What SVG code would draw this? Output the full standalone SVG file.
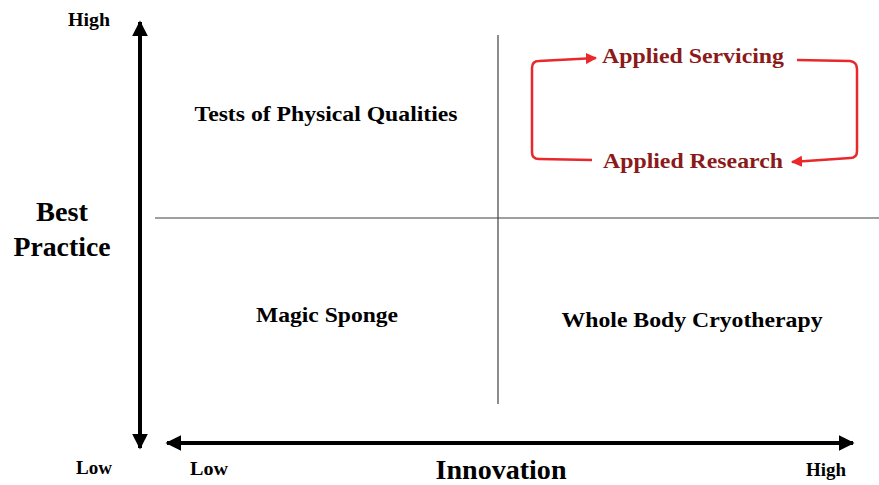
<svg xmlns="http://www.w3.org/2000/svg" width="879" height="485" viewBox="0 0 879 485">
  <style>
    text { font-family: "Liberation Serif", "Times New Roman", serif; font-weight: bold; }
    .axis { stroke: #000; stroke-width: 4; fill: none; }
    .grid { stroke: #404040; stroke-width: 1.2; fill: none; }
    .loop { stroke: #E8282B; stroke-width: 2.5; fill: none; }
    .small { font-size: 18px; fill: #000; }
    .title { font-size: 27px; fill: #000; }
    .quad { font-size: 21px; fill: #000; }
    .red { font-size: 21px; fill: #8B1A1A; }
  </style>
  <defs>
    <marker id="axisHead" viewBox="0 0 10 10" refX="9" refY="5" markerWidth="4" markerHeight="4" orient="auto-start-reverse" markerUnits="strokeWidth">
      <path d="M0,0 L10,5 L0,10 Z" fill="#000"/>
    </marker>
    <marker id="redHead" viewBox="0 0 10 10" refX="9" refY="5" markerWidth="4.5" markerHeight="4.5" orient="auto" markerUnits="strokeWidth">
      <path d="M0,0 L10,5 L0,10 Z" fill="#E8282B"/>
    </marker>
  </defs>

  <g id="connectors">
    <!-- axes -->
    <line class="axis" x1="140" y1="22" x2="140" y2="448" marker-start="url(#axisHead)" marker-end="url(#axisHead)"/>
    <line class="axis" x1="167" y1="443" x2="853" y2="443" marker-start="url(#axisHead)" marker-end="url(#axisHead)"/>
    <!-- quadrant dividers -->
    <line class="grid" x1="155" y1="218" x2="879" y2="218"/>
    <line class="grid" x1="498" y1="35" x2="498" y2="404"/>
    <!-- cycle between servicing and research -->
    <path class="loop" d="M797,60 L850,61 Q857,62 857,69 L857,151 Q857,158 850,158 L792,162" marker-end="url(#redHead)"/>
    <path class="loop" d="M592,160 L539,159 Q532,159 532,152 L532,68 Q532,61 539,61 L596,58" marker-end="url(#redHead)"/>
  </g>

  <g id="axis-labels">
    <text class="small" x="89" y="26" text-anchor="middle" textLength="42" lengthAdjust="spacingAndGlyphs">High</text>
    <text class="small" x="94" y="474" text-anchor="middle" textLength="36" lengthAdjust="spacingAndGlyphs">Low</text>
    <text class="small" x="209" y="475" text-anchor="middle" textLength="38" lengthAdjust="spacingAndGlyphs">Low</text>
    <text class="small" x="826" y="476" text-anchor="middle" textLength="40" lengthAdjust="spacingAndGlyphs">High</text>
    <text class="title" x="501" y="479" text-anchor="middle" textLength="131" lengthAdjust="spacingAndGlyphs">Innovation</text>
    <text class="title" x="62" y="221" text-anchor="middle" textLength="52" lengthAdjust="spacingAndGlyphs">Best</text>
    <text class="title" x="62" y="256" text-anchor="middle" textLength="97" lengthAdjust="spacingAndGlyphs">Practice</text>
  </g>

  <g id="tests-of-physical-qualities">
    <text class="quad" x="326" y="121" text-anchor="middle" textLength="263" lengthAdjust="spacingAndGlyphs">Tests of Physical Qualities</text>
  </g>
  <g id="magic-sponge">
    <text class="quad" x="327" y="322" text-anchor="middle" textLength="142" lengthAdjust="spacingAndGlyphs">Magic Sponge</text>
  </g>
  <g id="whole-body-cryotherapy">
    <text class="quad" x="692" y="327" text-anchor="middle" textLength="261" lengthAdjust="spacingAndGlyphs">Whole Body Cryotherapy</text>
  </g>
  <g id="applied-servicing">
    <text class="red" x="693" y="63" text-anchor="middle" textLength="182" lengthAdjust="spacingAndGlyphs">Applied Servicing</text>
  </g>
  <g id="applied-research">
    <text class="red" x="693" y="168" text-anchor="middle" textLength="180" lengthAdjust="spacingAndGlyphs">Applied Research</text>
  </g>
</svg>
